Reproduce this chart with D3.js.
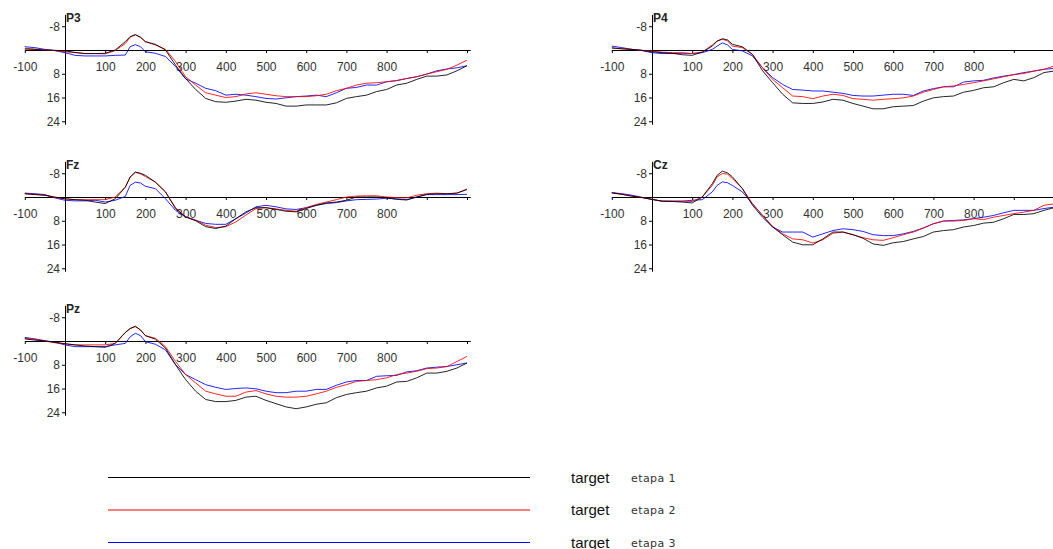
<!DOCTYPE html>
<html>
<head>
<meta charset="utf-8">
<script src="https://cdn.jsdelivr.net/npm/d3@7/dist/d3.min.js"></script>
<style>
  html, body { margin: 0; padding: 0; background: #fff; overflow: hidden; }
  svg { display: block; }
</style>
</head>
<body>
<svg id="chart" width="1053" height="549"></svg>
<script>
// ---- data (ms, microvolts; negative up) ----
const times = [-100,-75,-50,-25,0,25,50,75,100,125,150,162,175,188,200,225,250,275,300,325,350,375,400,425,450,475,500,525,550,575,600,625,650,675,700,725,750,775,800,825,850,875,900,925,950,975,1000];

const xTickValues = [-100,0,100,200,300,400,500,600,700,800,900,1000];
const xTickLabels = ["-100","","100","200","300","400","500","600","700","800","",""];
const yTickValues = [-8, 8, 16, 24];
const yTickLabels = ["-8", "8", "16", "24"];

const seriesNames = ["etapa 1", "etapa 2", "etapa 3"];
const legendPrefix = "target";
const channels = ["P3", "P4", "Fz", "Cz", "Pz"];

const p3_etapa1 = [-0.3,-0.2,0,0.1,0.3,0.8,1.2,1.2,1.1,0,-2.8,-4.5,-5.2,-4.3,-2.8,-1.9,0,5.1,9.6,13.3,16.3,17.4,17.6,17.2,16.6,16.9,17.6,18.0,18.9,18.9,18.5,18.5,18.5,17.8,16.3,15.7,15.2,14.0,13.3,11.8,11.2,9.9,8.8,8.8,8.4,7.0,5.3];
const p3_etapa2 = [-0.6,-0.3,0,0.2,0.6,0.9,1.2,1.2,1.3,0.2,-2.2,-4.3,-5.1,-4.2,-2.8,-1.7,-0.2,3.9,9.0,11.8,14.4,15.2,16.0,15.7,14.8,14.4,14.9,15.4,15.7,15.7,15.7,15.4,14.9,13.7,12.9,11.8,11.2,11.0,10.7,10.3,9.6,9.0,8.1,7.3,6.5,5.1,3.4];
const p3_etapa3 = [-1.1,-0.8,-0.2,0.2,0.9,1.8,2.0,2.0,2.0,1.8,1.7,-1.1,-1.8,-1.1,0.6,1.1,2.2,5.6,9.7,11.2,12.9,13.7,15.2,14.9,15.2,15.7,16.3,16.5,16.1,15.7,15.5,15.2,15.7,14.4,12.9,12.6,11.8,11.8,10.7,10.3,9.6,9.0,8.1,7.0,6.4,6.0,5.3];

const p4_etapa1 = [-0.7,-0.4,-0.2,0.1,0.6,0.9,1.1,1.6,1.8,0.7,-1.3,-3.0,-3.8,-3.4,-1.9,-1.1,1.5,7.0,11.0,14.9,17.8,18.0,18.0,17.5,16.6,16.9,18.0,18.9,19.8,19.8,19.1,18.9,18.7,17.2,16.1,15.7,15.5,14.2,13.6,12.7,12.4,11.0,9.9,10.4,9.3,7.6,7.1];
const p4_etapa2 = [-0.7,-0.4,-0.2,0.1,0.4,0.7,0.9,0.9,1.2,0.7,-1.7,-3.0,-3.6,-3.1,-1.3,-0.8,1.5,6.0,9.9,12.7,15.5,15.7,16.4,15.5,14.9,15.3,16.4,16.6,16.9,16.6,16.4,16.1,15.5,14.2,13.3,12.4,12.1,11.6,11.0,10.4,9.7,9.0,8.3,7.9,7.1,6.5,5.4];
const p4_etapa3 = [-1.3,-0.8,-0.2,0.2,0.9,1.2,1.2,1.1,1.2,0.9,-0.2,-1.3,-2.4,-1.7,-0.2,0.3,2.0,6.0,9.3,11.6,13.3,13.5,13.8,13.8,14.2,14.6,15.3,15.5,15.5,15.2,14.9,14.9,15.3,13.8,13.0,12.4,12.4,10.8,10.4,10.2,9.4,8.8,8.3,7.6,7.1,6.5,6.2];

const fz_etapa1 = [-1.1,-0.8,-0.6,0,0.6,0.9,1.1,1.7,2.2,0.6,-3.3,-6.7,-8.4,-8.0,-7.3,-5.0,-1.7,3.9,6.7,8.0,10.0,10.6,9.8,7.3,5.0,3.6,3.6,4.2,4.8,5.0,3.9,2.8,2.0,1.7,1.1,0,0,0,0.3,0.8,1.0,0,-0.9,-1.1,-1.1,-1.3,-2.5];
const fz_etapa2 = [-1.1,-0.9,-0.6,0.2,0.6,0.9,0.9,0.9,0.9,0,-3.3,-6.7,-8.3,-7.8,-6.9,-5.0,-1.7,3.6,6.7,7.8,9.5,10.3,10.0,8.4,6.1,3.9,3.6,4.0,4.5,4.8,3.6,2.5,1.7,0.9,0,-0.3,-0.4,-0.4,0,0.2,0.3,-0.6,-1.1,-1.3,-1.1,-1.3,-2.7];
const fz_etapa3 = [-1.3,-1.1,-0.8,0.3,1.1,1.3,1.3,1.1,1.7,1.1,-0.2,-3.9,-5.0,-4.7,-3.6,-2.8,0.6,4.5,6.7,7.8,8.9,9.2,9.2,7.3,5.4,3.3,2.8,3.3,4.0,4.2,3.6,2.8,2.2,1.9,1.3,0.9,0.8,0.7,0.4,0.6,0.9,0,-0.8,-0.8,-0.8,-0.8,-0.9];

const cz_etapa1 = [-1.4,-0.9,-0.3,0.2,0.8,1.4,1.5,1.7,2.0,0,-4.5,-7.3,-8.7,-8.1,-6.8,-2.8,2.8,6.8,10.1,12.7,15.2,16.1,16.1,14.1,11.8,11.8,12.7,13.9,15.8,16.3,15.4,15.0,14.1,13.3,11.8,11.3,11.0,10.1,9.6,8.8,8.5,7.3,5.9,5.9,5.6,4.5,3.6];
const cz_etapa2 = [-1.4,-0.9,-0.3,0.2,0.8,1.4,1.4,1.4,1.5,0,-3.9,-6.8,-7.9,-7.7,-6.2,-2.8,2.3,6.2,9.9,12.4,14.1,14.4,15.5,14.4,12.2,11.8,12.7,13.7,14.4,14.6,13.7,12.7,11.8,10.5,9.0,8.1,8.1,7.9,7.3,7.6,6.8,6.2,5.6,5.1,4.5,2.8,2.3];
const cz_etapa3 = [-1.5,-1.1,-0.6,0.1,0.8,1.4,1.4,1.4,1.1,0.9,-1.7,-3.9,-5.1,-4.8,-3.9,-1.7,2.3,6.2,10.1,11.8,11.8,11.8,13.5,12.4,11.3,10.7,11.0,11.6,12.7,13.0,13.0,12.4,11.6,10.4,9.0,8.1,7.9,7.7,7.3,6.8,6.2,5.3,4.5,4.5,4.5,3.9,3.4];

const pz_etapa1 = [-0.7,-0.3,0,0.4,0.9,1.3,1.7,1.9,2.1,0.8,-2.9,-4.2,-5.0,-3.7,-1.8,-0.6,2.4,8.0,13.0,16.9,19.7,20.4,20.4,20.0,18.9,18.6,20.0,21.1,22.2,22.8,22.2,21.3,20.8,19.1,18.0,17.4,16.9,15.8,15.2,13.8,13.6,12.4,10.8,10.8,10.2,9.1,7.4];
const pz_etapa2 = [-0.9,-0.6,0,0.6,1.0,1.3,1.3,1.3,1.3,0.8,-2.8,-4.2,-4.8,-3.7,-1.8,-0.9,1.9,6.9,11.3,14.1,16.9,17.8,18.6,18.6,17.2,16.7,17.8,18.6,18.9,18.9,18.6,17.8,16.9,15.6,14.7,13.6,13.3,13.0,12.4,11.3,10.8,10.2,9.3,9.1,8.6,6.9,5.2];
const pz_etapa3 = [-1.2,-0.7,-0.1,0.4,1.3,1.9,1.9,1.9,1.9,1.3,0.8,-1.4,-2.6,-1.8,0.2,1.1,3.0,8.0,11.3,13.0,14.7,15.6,16.3,16.0,15.8,16.1,16.9,17.4,17.4,16.9,16.9,16.3,16.3,14.9,13.8,13.3,13.3,11.9,11.7,11.6,10.4,10.0,9.1,8.8,8.6,8.0,7.4];

const channelData = {
  P3: [p3_etapa1, p3_etapa2, p3_etapa3],
  P4: [p4_etapa1, p4_etapa2, p4_etapa3],
  Fz: [fz_etapa1, fz_etapa2, fz_etapa3],
  Cz: [cz_etapa1, cz_etapa2, cz_etapa3],
  Pz: [pz_etapa1, pz_etapa2, pz_etapa3]
};

// ---- layout & style ----
const colors = ["#000000", "#ff0000", "#0000ff"];
const panelPos = {
  P3: {ax: 65,  zy: 50},
  P4: {ax: 652, zy: 50},
  Fz: {ax: 65,  zy: 197},
  Cz: {ax: 652, zy: 197},
  Pz: {ax: 65,  zy: 341}
};
const pxPerMs = 0.402;
const pxPerUv = 2.97;
const xEnd = 1008;

const svg = d3.select("#chart");
const font = "'Liberation Sans', Arial, sans-serif";

channels.forEach(ch => {
  const p = panelPos[ch];
  const x = d3.scaleLinear().domain([-100, xEnd]).range([p.ax - 100 * pxPerMs, p.ax + xEnd * pxPerMs]);
  const y = d3.scaleLinear().domain([-12, 25]).range([p.zy - 12 * pxPerUv, p.zy + 25 * pxPerUv]);
  const g = svg.append("g");

  // x axis at zero
  const xAxis = d3.axisBottom(x)
    .tickValues(xTickValues)
    .tickFormat((d, i) => xTickLabels[i])
    .tickSizeInner(3).tickSizeOuter(0).tickPadding(9);
  const gx = g.append("g").attr("transform", `translate(0,${y(0)})`).call(xAxis);
  gx.select(".domain").attr("stroke", "#000").attr("stroke-width", 1);
  gx.selectAll(".tick line").attr("stroke", "#000");
  gx.selectAll(".tick text").attr("font-family", font).attr("font-size", 12).attr("fill", "#333");

  // y axis
  const yAxis = d3.axisLeft(y)
    .tickValues(yTickValues)
    .tickFormat((d, i) => yTickLabels[i])
    .tickSizeInner(3).tickSizeOuter(0).tickPadding(2);
  const gy = g.append("g").attr("transform", `translate(${p.ax},0)`).call(yAxis);
  gy.select(".domain").attr("stroke", "#000").attr("stroke-width", 1);
  gy.selectAll(".tick line").attr("stroke", "#000");
  gy.selectAll(".tick text").attr("font-family", font).attr("font-size", 12).attr("fill", "#333");

  // title
  g.append("text")
    .attr("x", p.ax + 1).attr("y", p.zy - 28)
    .attr("font-family", font).attr("font-size", 12).attr("font-weight", "bold")
    .attr("fill", "#222")
    .text(ch);

  // lines (black drawn last so it sits on top)
  const line = d3.line().x((d, i) => x(times[i])).y(d => y(d));
  [2, 1, 0].forEach(si => {
    g.append("path")
      .datum(channelData[ch][si])
      .attr("d", line)
      .attr("fill", "none")
      .attr("stroke", colors[si])
      .attr("stroke-width", 1)
      .attr("stroke-opacity", 0.85);
  });
});

// ---- legend ----
const legendY = [477.5, 510, 542.5];
const leg = svg.append("g");
seriesNames.forEach((name, i) => {
  leg.append("line")
    .attr("x1", 108).attr("x2", 530)
    .attr("y1", legendY[i]).attr("y2", legendY[i])
    .attr("stroke", colors[i]).attr("stroke-width", 1.2);
  leg.append("text")
    .attr("x", 571).attr("y", legendY[i] + 5)
    .attr("font-family", font).attr("font-size", 15).attr("fill", "#111")
    .text(legendPrefix);
  leg.append("text")
    .attr("x", 631).attr("y", legendY[i] + 4)
    .attr("font-family", "'DejaVu Sans', sans-serif").attr("font-size", 11)
    .attr("letter-spacing", 0.4).attr("fill", "#333")
    .text(name);
});
</script>
</body>
</html>
